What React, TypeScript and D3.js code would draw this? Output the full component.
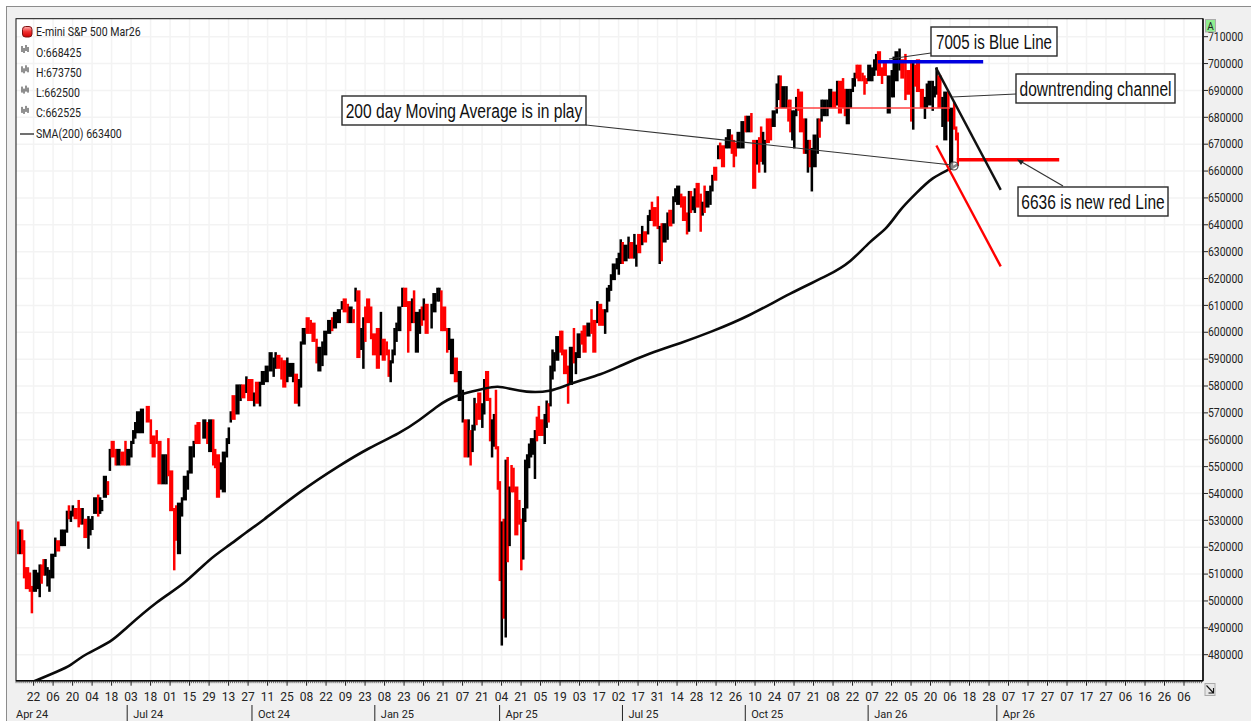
import React from "react";
import * as d3 from "d3";

// Each bar: [trading-day index, high, low, 1 = down bar (red) / 0 = up bar (black)], prices in thousands
type Bar = [number, number, number, number];

const barsApr24: Bar[] = [
[0,529,518,1],[1,526,518,0],[2,526,518,1],[3,522,509,1],[4,512,505,1],[5,512,505,1],[6,510,504,1],[7,505,496,1],[8,511,504,0],[9,511,504,0],
[10,510,505,0],[11,513,502,0],[12,513,507,1],[13,515,510,1],[14,515,510,0],[15,512,506,0],[16,511,504,0],[17,517,509,0],[19,523,517,0],[20,522,519,1],
[22,526,521,0],[23,526,521,0],[25,533,526,0],[26,535,531,1],[27,533,530,0],[28,535,532,0],[29,534,531,1],[31,537,528,1],[32,534,529,1],[33,534,529,0],
[34,530,524,1],[36,531,520,0],[37,530,525,0],[38,531,527,0],[39,538,533,0],[41,539,532,1],[42,538,533,0],[43,537,534,0],[44,546,539,0],[46,544,540,1],
];
const barsJul24: Bar[] = [
[47,556,549,0],[48,559,554,1],[50,556,551,1],[51,556,551,0],[53,555,551,1],[55,559,551,1],[56,556,551,0],[58,559,554,0],[59,563,559,0],[60,566,561,0],
[61,570,563,0],[63,571,563,0],[66,572,567,1],[68,567,559,1],[69,561,554,1],[71,563,559,1],[72,559,544,1],[74,554,544,0],[76,554,544,0],[77,560,547,1],
[78,548,534,1],[80,534,512,1],[81,535,523,1],[82,536,518,0],[84,538,532,0],[85,546,538,0],[87,548,542,0],[88,557,548,0],[90,559,554,0],[91,565,559,1],
[92,566,559,1],[95,567,561,0],[97,566,559,1],[98,567,556,0],[100,567,551,1],[101,556,550,1],[102,554,539,1],[104,551,542,0],[105,555,541,0],[107,560,554,0],
[108,564,559,0],
];
const barsOct24: Bar[] = [
[109,570,567,0],[110,576,568,1],[112,580,570,0],[114,580,575,0],[115,580,576,1],[117,583,578,0],[118,582,575,1],[120,582,575,1],[121,577,573,0],[122,581,574,1],
[124,581,573,0],[125,585,581,0],[127,587,582,0],[129,592,586,0],[131,590,584,0],[132,592,587,0],[133,591,587,1],[135,590,583,1],[136,589,580,1],[138,590,582,0],
[139,588,584,0],[141,588,582,0],[142,584,574,1],[144,582,573,0],[145,596,580,0],[146,601,596,0],[148,605,600,1],[150,604,600,1],[151,603,597,1],[153,597,589,1],
[154,594,586,0],[156,596,588,0],[157,600,592,0],[159,604,600,0],[161,605,601,1],[162,607,602,0],[164,608,604,0],[166,611,609,0],[167,612,608,1],[169,610,604,1],
];
const barsJan25: Bar[] = [
[170,609,604,0],[172,608,604,1],[173,616,612,0],[174,615,591,1],[176,601,594,0],[177,605,587,0],[178,609,597,1],[179,612,604,1],[181,609,598,1],[182,599,592,1],
[184,601,587,1],[186,607,592,0],[187,597,590,1],[189,596,592,1],[190,593,584,1],[191,589,582,0],[192,593,589,0],[193,601,592,0],[194,603,597,0],[195,609,601,0],
[197,616,610,0],[198,616,610,1],[200,611,593,1],[201,611,601,1],[202,612,604,0],[203,615,604,1],[204,607,593,0],[206,608,600,0],[207,609,603,1],[208,612,605,0],
[209,610,600,1],[212,610,602,0],[213,614,608,0],[215,616,612,0],[216,616,612,0],[217,615,601,1],[218,609,601,1],[220,601,593,1],[221,601,594,0],[222,597,585,0],
[224,590,582,1],[226,585,575,0],[228,578,567,0],[229,567,554,1],[231,567,554,0],[232,563,551,1],[233,565,556,0],[234,575,564,0],[235,573,566,1],[236,577,568,1],
[238,573,565,0],[239,582,570,0],[240,585,575,1],[242,575,560,1],[243,567,554,0],[244,569,558,0],
];
const barsApr25: Bar[] = [
[245,578,557,1],[246,557,542,1],[247,544,508,1],[248,529,484,0],[249,530,494,1],[250,552,487,0],[251,553,515,1],[252,542,521,0],[253,550,541,1],[254,549,541,1],
[255,542,525,1],[257,537,529,1],[258,530,512,1],[259,534,516,0],[260,552,530,0],[261,554,535,0],[262,558,550,0],[263,560,554,0],[264,560,555,0],[265,563,546,0],
[266,568,560,1],[267,572,562,1],[268,567,562,1],[270,569,559,0],[271,574,565,0],[272,573,567,1],[273,587,573,0],[274,593,583,0],[275,592,586,0],[276,598,590,0],
[278,600,593,1],[279,600,592,1],[280,593,585,1],[282,587,574,1],[283,594,581,0],[285,601,589,1],[286,592,585,0],[287,599,591,0],[289,600,596,1],[290,602,593,1],
[292,603,599,0],[294,608,600,1],[295,604,593,1],[297,611,604,0],[298,610,603,1],[300,608,603,1],[301,608,600,0],
];
const barsJul25: Bar[] = [
[302,616,608,0],[303,617,612,0],[304,621,616,0],[305,625,620,0],[307,627,624,0],[308,629,622,0],[309,634,626,0],[310,633,626,1],[311,632,627,0],[313,635,628,0],
[314,633,628,1],[316,636,628,0],[317,632,625,0],[318,636,630,1],[320,639,633,0],[321,637,634,1],[323,643,637,0],[324,645,642,0],[325,648,642,1],[326,646,640,1],
[328,650,639,1],[329,639,626,0],[330,640,627,1],[331,640,634,0],[333,644,635,0],[334,645,640,1],[336,650,641,0],[337,653,649,0],[338,654,648,0],[340,651,647,1],
[341,650,642,1],[343,644,637,1],[344,652,638,0],[345,652,645,1],[346,650,646,0],[347,653,645,0],[348,655,647,1],[350,651,638,1],[351,648,644,0],[352,654,645,1],
[353,652,647,0],[355,654,648,0],[356,658,653,0],[357,661,657,1],[359,669,665,0],[360,670,665,1],[361,669,662,1],[363,672,669,0],
];
const barsOct25: Bar[] = [
[364,675,669,0],[366,673,667,1],[367,671,662,1],[368,670,666,1],[369,674,669,0],[371,678,669,0],[373,680,675,1],[374,680,675,0],[376,681,675,1],[377,671,654,1],
[379,671,663,0],[380,672,660,1],[381,676,664,1],[382,674,663,0],[383,671,660,0],[384,679,671,1],[386,679,672,1],[387,682,677,0],[389,692,682,0],[390,695,687,0],
[391,695,684,1],[392,691,684,0],[394,691,684,0],[395,686,679,1],[396,686,675,1],[397,682,672,0],[398,682,669,0],[399,687,681,0],[400,690,683,1],[401,689,675,1],
[403,679,667,1],[404,679,667,0],[405,671,660,0],[406,671,662,1],[407,668,653,0],[408,673,662,0],[410,679,667,0],[411,679,673,1],[412,686,679,0],[413,686,681,0],
[415,686,681,0],[416,690,684,0],[418,689,684,1],[420,693,685,0],[421,693,682,1],[423,694,684,1],[424,690,681,1],[425,690,678,0],[427,690,684,0],
];
const barsJan26: Bar[] = [
[428,694,690,0],[429,696,692,0],[430,699,695,1],[431,699,694,1],[433,696,694,1],[434,695,689,1],[435,694,693,1],[436,699,694,0],[438,698,694,0],[439,701,696,0],
[440,703,698,0],[441,704,696,1],[443,698,693,1],[444,700,696,1],[446,695,682,0],[448,697,688,0],[449,702,688,0],[450,704,694,0],[452,705,698,0],[453,701,695,1],
[455,703,687,1],[456,697,689,1],[458,700,679,1],[459,700,676,0],[460,699,692,1],[461,701,690,1],[463,690,684,1],[465,687,680,0],[466,692,684,0],[467,693,685,0],
[469,693,683,0],[470,691,688,0],[471,698,689,0],[472,695,684,1],[474,687,677,0],[475,689,672,0],[477,689,679,1],[478,683,662,0],[480,685,676,1],[481,676,672,1],
[482,673.75,662.5,1],
];
const bars: Bar[] = [...barsApr24, ...barsJul24, ...barsOct24, ...barsJan25, ...barsApr25, ...barsJul25, ...barsOct25, ...barsJan26];

// 200-day simple moving average: [trading-day index, value in thousands]
const smaDays = [8,21,27,33,40,49,54,72,85,98,109,117,124,145,165,180,196,206,215,220,227,240,246,252,260,273,283,300,309,324,340,355,375,396,416,427,437,446,452,461,469,478,482];
const smaVals = [470,474,476,479.5,482,485.5,489,500.4,506,515.6,521,525.6,529,541,550.5,557,562.5,567.3,572.5,574.8,577,579.2,580,579,577.7,577.7,581,584.4,587.6,592.2,596,600,606,614.6,621.3,626,634,638.7,645.5,652,657.7,660.7,662.5];

const priceTicks = d3.range(480, 711, 10);
const dayLabels = ["22","06","20","04","18","03","18","01","15","29","13","27","11","25","08","22","09","23","08","23","06","21","07","21","04","21","05","19","03","17","02","17","31","14","28","12","26","10","24","07","21","08","22","07","22","05","20","06","18","28","07","17","27","07","17","27","06","16","26","06"];
const quarterLabels = ["Jul 24","Oct 24","Jan 25","Apr 25","Jul 25","Oct 25","Jan 26","Apr 26"];
const quarterDays = [56,120,183,247,310,373,436,502];
const legendRows = ["O:668425","H:673750","L:662500","C:662525"];

const W = 1251, H = 721;
const frame = { l: 16, r: 1203, t: 18.7, b: 680.7 };
const x = d3.scaleLinear().domain([0, 482.6]).range([18, 959]);
const y = d3.scaleLinear().domain([480, 710]).range([654.7, 36.7]);
const firstTick = 8, tickStep = 10;
const tickDays = dayLabels.map((_, i) => firstTick + i * tickStep);
const minorDays = d3.range(-1, 609);

const smaLine = d3.line<number>().x((d) => x(d)).y((_, i) => y(smaVals[i])).curve(d3.curveBasis);

const UI = "Roboto, 'Liberation Sans', sans-serif";
const BOX = "'Liberation Sans', Arial, sans-serif";

function Box({ bx, by, bw, bh, label, sx }: { bx: number; by: number; bw: number; bh: number; label: string; sx: number }) {
  return (
    <g>
      <rect x={bx} y={by} width={bw} height={bh} fill="#fff" stroke="#2a2a2a" strokeWidth={1.4} />
      <text transform={`translate(${bx + bw / 2},${by + bh / 2 + 7}) scale(${sx},1)`} textAnchor="middle" fontFamily={BOX} fontSize={21} fill="#111">{label}</text>
    </g>
  );
}

function Narrow({ tx, ty, sx, children }: { tx: number; ty: number; sx: number; children: React.ReactNode }) {
  return <text transform={`translate(${tx},${ty}) scale(${sx},1)`}>{children}</text>;
}

export default function App() {
  return (
    <svg width={W} height={H} viewBox={`0 0 ${W} ${H}`} style={{ position: "absolute", left: 0, top: 0, display: "block" }}>
      <defs>
        <clipPath id="plot"><rect x={frame.l} y={frame.t} width={frame.r - frame.l} height={frame.b - frame.t} /></clipPath>
        <linearGradient id="led" x1="0" y1="0" x2="0" y2="1">
          <stop offset="0" stopColor="#ffb0b0" /><stop offset="0.5" stopColor="#f03030" /><stop offset="1" stopColor="#d00000" />
        </linearGradient>
      </defs>
      <rect width={W} height={H} fill="#fff" />
      <rect x={6.5} y={6.5} width={W} height={H} fill="#f0f0f0" stroke="#8c8c8c" />
      <rect x={frame.l} y={frame.t} width={frame.r - frame.l} height={frame.b - frame.t} fill="#fff" />

      <g stroke="#f3f3f3" strokeWidth={1.5}>
        {tickDays.map((d) => <line key={d} x1={x(d)} x2={x(d)} y1={frame.t} y2={frame.b} />)}
        {priceTicks.map((p) => <line key={p} x1={frame.l} x2={frame.r} y1={y(p)} y2={y(p)} />)}
      </g>

      <g clipPath="url(#plot)">
        {bars.map((b, i) => {
          const next = bars[i + 1];
          const w = next ? Math.max(2.5, Math.min(4.2, x(next[0]) - x(b[0]) + 0.4)) : 2.2;
          const pad = 1.6;
          return <rect key={i} x={x(b[0]) - 1} y={y(b[1]) - pad} width={w} height={Math.max(1, y(b[2]) - y(b[1])) + 2 * pad} fill={b[3] ? "#ff0000" : "#000"} />;
        })}
        <path d={smaLine(smaDays) || ""} fill="none" stroke="#0a0a0a" strokeWidth={2.6} strokeLinejoin="round" />

        {/* trend and level lines */}
        <line x1={x(388)} x2={x(478)} y1={y(683.5)} y2={y(683.5)} stroke="#ff4040" strokeWidth={1.5} />
        <line x1={x(441)} x2={x(495)} y1={y(700.7)} y2={y(700.7)} stroke="#0000e0" strokeWidth={3.4} />
        <line x1={x(481.5)} x2={x(534)} y1={y(664.2)} y2={y(664.2)} stroke="#ff0000" strokeWidth={3.4} />
        <line x1={x(470.8)} x2={x(504)} y1={y(698.4)} y2={y(653)} stroke="#111" strokeWidth={2.4} />
        <line x1={x(471)} x2={x(504)} y1={y(669.5)} y2={y(624.5)} stroke="#ff0000" strokeWidth={2.4} />
      </g>

      {/* callout leaders */}
      <g stroke="#333" strokeWidth={1.2} fill="none">
        <line x1={586} y1={125} x2={952} y2={165} />
        <line x1={931} y1={53} x2={889} y2={59} />
        <line x1={1016} y1={94} x2={952} y2={97} />
        <line x1={1063} y1={186} x2={1020} y2={161} />
        <circle cx={954} cy={166} r={4} stroke="#444" fill="#fff" fillOpacity={0.5} />
      </g>
      <path d="M1017 159.5 L1024 160.5 L1021 165 Z" fill="#222" />

      <Box bx={342} by={96} bw={244} bh={29} label="200 day Moving Average is in play" sx={0.744} />
      <Box bx={931} by={27} bw={126} bh={29} label="7005 is Blue Line" sx={0.72} />
      <Box bx={1016} by={74} bw={159} bh={29} label="downtrending channel" sx={0.74} />
      <Box bx={1018} by={187} bw={150} bh={29} label="6636 is new red Line" sx={0.74} />

      {/* frame */}
      <rect x={frame.l} y={frame.t} width={frame.r - frame.l} height={frame.b - frame.t} fill="none" stroke="#111" strokeWidth={1} />
      <line x1={frame.l} x2={frame.r} y1={frame.b} y2={frame.b} stroke="#000" strokeWidth={1.6} />
      <line x1={frame.r} x2={frame.r} y1={frame.t} y2={frame.b} stroke="#000" strokeWidth={1.4} />

      {/* price axis */}
      <g fontFamily={UI} fontSize={12} fill="#222">
        {priceTicks.map((p) => (
          <g key={p}>
            <line x1={frame.r} x2={frame.r + 5} y1={y(p)} y2={y(p)} stroke="#222" />
            <Narrow tx={frame.r + 5} ty={y(p) + 4.2} sx={0.87}>{p * 1000}</Narrow>
          </g>
        ))}
      </g>

      {/* time axis */}
      <g stroke="#333" strokeWidth={0.7}>
        {minorDays.map((d) => x(d) >= frame.l && x(d) <= frame.r ? <line key={d} x1={x(d)} x2={x(d)} y1={frame.b} y2={frame.b + 2.5} /> : null)}
      </g>
      <g stroke="#222" strokeWidth={1}>
        {tickDays.map((d) => <line key={d} x1={x(d)} x2={x(d)} y1={frame.b} y2={frame.b + 5} />)}
      </g>
      <g fontFamily={UI} fontSize={12} fill="#222" textAnchor="middle">
        {dayLabels.map((t, i) => <text key={i} x={x(tickDays[i])} y={701}>{t}</text>)}
      </g>
      <g fontFamily={UI} fontSize={11} fill="#222">
        <text x={16} y={718}>Apr 24</text>
        {quarterLabels.map((t, i) => (
          <g key={t}>
            <line x1={x(quarterDays[i]) } x2={x(quarterDays[i])} y1={705} y2={721} stroke="#222" />
            <text x={x(quarterDays[i]) + 6} y={718}>{t}</text>
          </g>
        ))}
      </g>

      {/* legend */}
      <rect x={22.5} y={26.5} width={9.5} height={10.5} rx={3} fill="url(#led)" stroke="#7a1010" />
      <g fontFamily={UI} fontSize={12} fill="#222">
        <Narrow tx={36} ty={36} sx={0.88}>E-mini S&amp;P 500 Mar26</Narrow>
        {legendRows.map((t, i) => (
          <g key={t}>
            <path transform={`translate(21,${45 + i * 20.3})`} d="M1 1V7M3 3V8M5 0V6M7 2V7" stroke="#222" strokeWidth={1} fill="none" />
            <Narrow tx={36} ty={56.5 + i * 20.3} sx={0.88}>{t}</Narrow>
          </g>
        ))}
        <line x1={20} x2={34} y1={134} y2={134} stroke="#111" strokeWidth={1.2} />
        <Narrow tx={36} ty={138} sx={0.88}>SMA(200)  663400</Narrow>
      </g>

      {/* auto-scale and resize buttons */}
      <rect x={1205.5} y={19.5} width={10} height={12.5} fill="#90ee90" stroke="#aaa" />
      <text x={1210.5} y={29.5} textAnchor="middle" fontFamily={UI} fontSize={10} fill="#222">A</text>
      <rect x={1205} y={683.5} width={10} height={12} fill="#e6e6e6" stroke="#aaa" />
      <path d="M1206.5 685.5 L1213.5 693 M1213.5 688 V693 H1208.5" stroke="#111" strokeWidth={1.1} fill="none" />
    </svg>
  );
}
